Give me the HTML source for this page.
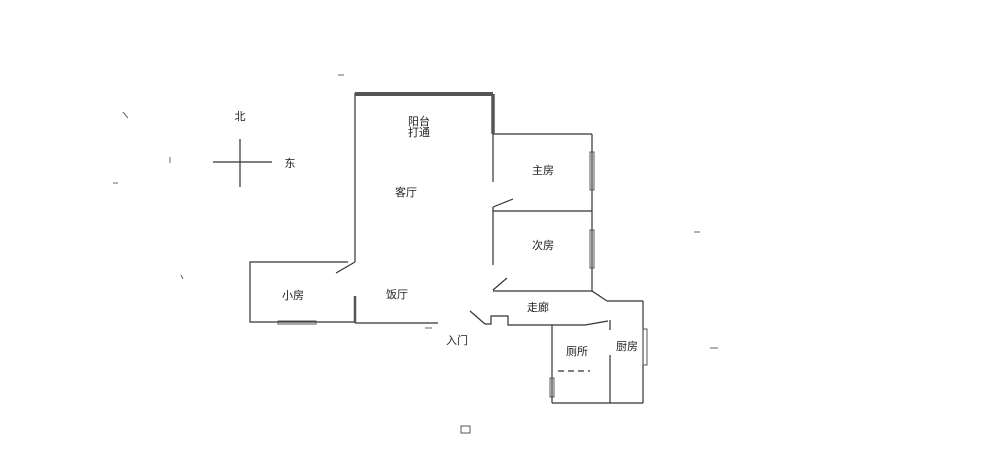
<!DOCTYPE html>
<html><head><meta charset="utf-8"><style>
html,body{margin:0;padding:0;background:#fff;}
svg{display:block}
text{font-family:"Liberation Sans","Noto Sans CJK SC",sans-serif;font-size:11px;fill:#222;text-anchor:middle}
</style></head><body>
<svg width="1000" height="467" viewBox="0 0 1000 467" xmlns="http://www.w3.org/2000/svg">
<g stroke="#333" stroke-width="1.2" fill="none">
<!-- compass -->
<line x1="213" y1="162" x2="272" y2="162"/>
<line x1="240" y1="139" x2="240" y2="187"/>
<!-- living -->
<line x1="355" y1="93" x2="355" y2="262"/>
<line x1="493" y1="134" x2="493" y2="182"/>
<line x1="493" y1="207" x2="493" y2="265"/>
<line x1="493" y1="134" x2="592" y2="134"/>
<line x1="592" y1="134" x2="592" y2="291"/>
<line x1="493" y1="211" x2="592" y2="211"/>
<line x1="493" y1="291" x2="592" y2="291"/>
<line x1="493" y1="207" x2="513" y2="199"/>
<line x1="493" y1="290" x2="507" y2="278"/>
<line x1="592" y1="291" x2="607" y2="301"/>
<line x1="607" y1="301" x2="643" y2="301"/>
<line x1="643" y1="301" x2="643" y2="403"/>
<line x1="552" y1="403" x2="643" y2="403"/>
<line x1="552" y1="325" x2="552" y2="403"/>
<line x1="610" y1="355" x2="610" y2="403"/>
<line x1="610" y1="320" x2="610" y2="330"/>
<line x1="585" y1="325" x2="608" y2="321"/>
<line x1="470" y1="311" x2="485" y2="324"/>
<polyline points="485,324 491,324 491,316 508,316 508,325 585,325"/>
<line x1="558" y1="371" x2="590" y2="371" stroke-dasharray="6,4"/>
<!-- small room -->
<polyline points="348,262 250,262 250,322 355,322"/>
<line x1="355" y1="262" x2="336" y2="273"/>
<line x1="355" y1="323" x2="438" y2="323"/>
</g>
<g fill="none" stroke="#555">
<line x1="355" y1="94" x2="493" y2="94" stroke-width="4"/>
<line x1="493" y1="94" x2="493" y2="134" stroke-width="3.5"/>
<line x1="355" y1="296" x2="355" y2="323" stroke-width="2.5"/>
<rect x="278" y="321" width="38" height="3" stroke-width="1"/>
<rect x="590" y="152" width="4" height="38" stroke-width="1"/>
<rect x="590" y="230" width="4" height="38" stroke-width="1"/>
<rect x="643" y="329" width="4" height="36" stroke-width="1"/>
<rect x="550" y="378" width="4" height="19" stroke-width="1"/>
<rect x="461" y="426" width="9" height="7" stroke-width="1"/>
</g>
<g stroke="#666" stroke-width="1">
<line x1="338" y1="75" x2="344" y2="75"/>
<line x1="123" y1="112" x2="128" y2="118"/>
<line x1="170" y1="157" x2="170" y2="163"/>
<line x1="113" y1="183" x2="118" y2="183"/>
<line x1="181" y1="275" x2="183" y2="279"/>
<line x1="694" y1="232" x2="700" y2="232"/>
<line x1="710" y1="348" x2="718" y2="348"/>
<line x1="425" y1="328" x2="432" y2="328"/>
</g>
<text x="240" y="120">北</text>
<text x="290" y="167">东</text>
<text x="419" y="125">阳台</text>
<text x="419" y="136">打通</text>
<text x="406" y="196">客厅</text>
<text x="543" y="174">主房</text>
<text x="543" y="249">次房</text>
<text x="293" y="299">小房</text>
<text x="397" y="298">饭厅</text>
<text x="538" y="311">走廊</text>
<text x="457" y="344">入门</text>
<text x="577" y="355">厕所</text>
<text x="627" y="350">厨房</text>
</svg>
</body></html>
